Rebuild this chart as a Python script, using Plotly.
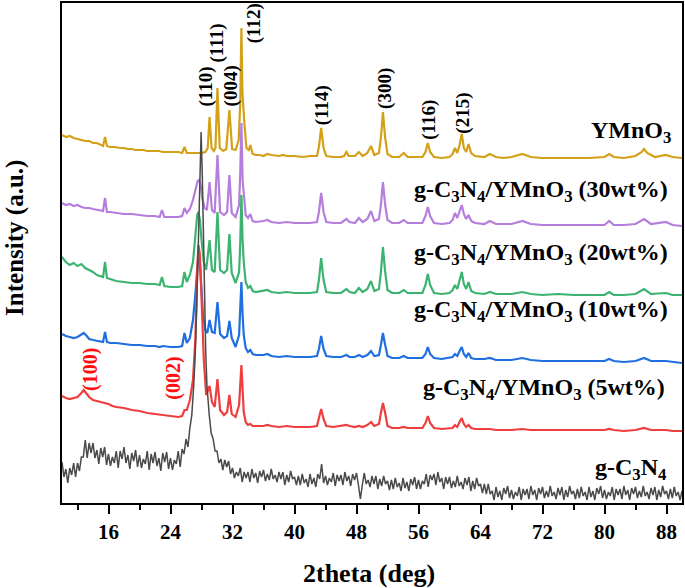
import plotly.graph_objects as go

# ---------------- data (2theta in deg, intensity in a.u., stacked) ----------------
YMNO3 = [(10.0,368),(10.5,366),(11.0,367),(11.5,365),(12.0,364),(12.5,363),(13.0,362),(13.5,362),
 (14.0,360),(14.5,360),(15.0,358),(15.3,357),(15.55,366),(15.8,357),(16.2,356),(16.8,356),(17.5,355),
 (18.0,355),(18.5,354),(19.0,354),(19.5,353),(20.0,353),(20.5,353),(21.0,352),(21.5,352),(22.0,352),
 (22.5,352),(23.0,351),(23.5,351),(24.0,351),(24.5,351),(25.0,351),(25.5,350),(25.8,356),(26.1,350),
 (26.5,350),(27.0,350),(27.5,350),(28.0,350),(28.5,351),(28.8,355),(29.04,386),(29.3,355),(29.6,352),
 (29.8,355),(30.06,415),(30.35,355),(30.8,352),(31.2,354),(31.6,393),(31.95,354),(32.4,353),(32.8,363),
 (33.0,400),(33.15,475),(33.28,410),(33.4,388),(33.55,378),(33.8,355),(34.1,353),(34.3,358),(34.6,349),
 (35.0,348),(35.5,348),(36.0,347),(36.5,349),(37.0,348),(38.0,347),(38.5,348),(39.0,347),(40.0,347),
 (41.0,346),(42.0,347),(42.9,347),(43.15,356),(43.44,375),(43.75,355),(44.1,347),(45.0,346),(46.0,346),
 (46.4,347),(46.7,351),(47.0,347),(47.8,347),(48.3,351),(48.8,347),(49.4,350),(49.87,357),(50.3,348),
 (50.9,350),(51.15,365),(51.41,391),(51.7,365),(52.0,349),(52.6,346),(53.5,346),(54.1,350),(54.6,346),
 (55.5,346),(56.5,346),(56.9,351),(57.2,360),(57.5,351),(58.0,346),(59.0,345),(60.0,346),(60.4,349),
 (60.7,355),(61.0,350),(61.3,358),(61.58,369),(61.85,355),(62.15,351),(62.45,359),(62.8,350),(63.3,347),
 (64.5,346),(65.2,349),(66.0,346),(67.0,345),(68.0,346),(69.4,349),(70.5,346),(72.0,345),(74.0,345),
 (76.0,345),(78.0,345),(80.0,346),(80.6,349),(81.2,346),(82.5,345),(84.0,347),(84.8,351),(85.1,354),
 (85.5,350),(86.5,346),(87.9,348),(88.8,346),(90.0,345)]

WT30 = [(10.0,300),(10.5,298),(11.0,299),(11.5,297),(12.0,298),(12.5,296),(13.0,295),(13.5,295),
 (14.0,294),(14.5,293),(15.0,292),(15.3,292),(15.55,305),(15.8,291),(16.2,291),(17.0,290),(18.0,289),
 (19.0,289),(20.0,288),(21.0,287),(22.0,287),(22.6,286),(22.9,293),(23.2,286),(24.0,286),(25.0,286),
 (25.5,287),(25.8,295),(26.1,290),(26.5,294),(26.9,303),(27.2,313),(27.5,322),(27.7,323),(27.9,317),
 (28.1,305),(28.4,295),(28.7,293),(29.04,321),(29.35,293),(29.7,290),(30.06,348),(30.4,291),(30.9,288),
 (31.3,291),(31.6,328),(31.9,290),(32.4,286),(32.85,298),(33.0,330),(33.15,380),(33.3,323),(33.45,308),
 (33.7,288),(34.0,285),(34.3,289),(34.6,282),(35.0,281),(36.0,282),(36.5,283),(37.0,281),(38.0,280),
 (39.0,281),(40.0,280),(41.0,280),(42.0,280),(42.9,281),(43.15,291),(43.44,310),(43.75,291),(44.1,281),
 (45.0,280),(46.0,280),(46.7,284),(47.1,281),(47.8,280),(48.3,285),(48.8,281),(49.4,284),(49.87,292),
 (50.3,282),(50.9,284),(51.15,298),(51.41,321),(51.7,298),(52.0,283),(52.6,280),(53.5,280),(54.1,283),
 (54.6,280),(55.5,280),(56.5,280),(56.9,287),(57.2,296),(57.5,287),(58.0,280),(59.0,279),(60.0,280),
 (60.4,283),(60.7,290),(61.0,285),(61.3,292),(61.58,298),(61.85,289),(62.15,284),(62.45,288),(62.8,282),
 (63.3,280),(64.5,279),(65.2,282),(66.0,279),(67.0,279),(68.0,279),(69.4,282),(70.5,279),(72.0,278),
 (74.0,278),(76.0,278),(78.0,278),(80.0,278),(80.6,282),(81.2,278),(82.5,278),(84.0,279),(85.1,284),
 (86.0,279),(87.9,281),(88.8,278),(90.0,277)]

WT20 = [(10.0,246),(10.5,241),(11.0,238),(11.5,240),(12.0,237),(12.5,239),(13.0,235),(13.5,233),
 (14.0,231),(14.5,228),(15.0,227),(15.3,226),(15.55,241),(15.8,225),(16.2,224),(17.0,222),(18.0,221),
 (19.0,220),(20.0,220),(21.0,219),(22.0,219),(22.6,218),(22.9,226),(23.2,217),(24.0,216),(25.0,216),
 (25.5,217),(25.8,231),(26.1,221),(26.5,228),(26.9,241),(27.2,263),(27.45,288),(27.6,291),(27.8,283),
 (28.0,263),(28.3,241),(28.6,233),(29.04,263),(29.35,233),(29.7,231),(30.06,291),(30.4,233),(30.9,230),
 (31.3,233),(31.6,269),(31.9,230),(32.4,220),(32.85,231),(33.0,260),(33.15,308),(33.3,263),(33.45,241),
 (33.7,221),(34.0,215),(34.3,217),(34.6,212),(35.0,211),(36.0,212),(36.5,213),(37.0,211),(38.0,210),
 (39.0,211),(40.0,210),(41.0,210),(42.0,210),(42.9,211),(43.15,223),(43.44,245),(43.75,223),(44.1,211),
 (45.0,210),(46.0,210),(46.7,214),(47.1,211),(47.8,210),(48.3,215),(48.8,211),(49.4,214),(49.87,222),
 (50.3,212),(50.9,214),(51.15,231),(51.41,256),(51.7,231),(52.0,213),(52.6,210),(53.5,210),(54.1,213),
 (54.6,210),(55.5,210),(56.5,210),(56.9,218),(57.2,229),(57.5,218),(58.0,210),(59.0,209),(60.0,210),
 (60.4,213),(60.7,218),(61.0,214),(61.3,223),(61.58,231),(61.85,219),(62.15,214),(62.45,221),(62.8,212),
 (63.3,210),(64.5,209),(65.2,211),(66.0,209),(67.0,209),(68.0,209),(69.4,211),(70.5,209),(72.0,208),
 (74.0,209),(76.0,208),(78.0,208),(80.0,208),(80.6,211),(81.2,208),(82.5,208),(84.0,209),(85.1,214),
 (86.0,209),(87.9,210),(88.8,208),(90.0,208)]

WT10 = [(10.0,169),(10.5,167),(11.0,166),(11.5,165),(12.0,166),(12.5,169),(12.8,170),(13.2,167),
 (13.5,164),(14.0,163),(14.5,162),(15.0,161),(15.3,161),(15.55,171),(15.8,161),(16.2,160),(17.0,160),
 (18.0,159),(19.0,158),(20.0,158),(21.0,157),(22.0,157),(22.6,156),(23.0,157),(24.0,156),(25.0,156),
 (25.5,157),(25.8,170),(26.1,160),(26.5,165),(26.9,183),(27.2,208),(27.45,241),(27.6,250),(27.75,245),
 (27.95,218),(28.2,188),(28.5,173),(28.75,170),(29.04,183),(29.35,171),(29.7,170),(30.06,201),(30.4,169),
 (30.9,165),(31.3,167),(31.6,182),(31.9,165),(32.4,156),(32.85,168),(33.0,190),(33.15,221),(33.3,188),
 (33.45,168),(33.7,155),(34.0,151),(34.3,153),(34.6,149),(35.0,148),(36.0,148),(36.5,149),(37.0,147),
 (38.0,146),(39.0,147),(40.0,146),(41.0,146),(42.0,146),(42.9,147),(43.15,154),(43.44,167),(43.75,154),
 (44.1,147),(45.0,146),(46.0,146),(46.7,148),(47.1,146),(47.8,146),(48.3,148),(48.8,146),(49.4,148),
 (49.87,152),(50.3,147),(50.9,148),(51.15,158),(51.41,170),(51.7,158),(52.0,147),(52.6,145),(53.5,145),
 (54.1,147),(54.6,145),(55.5,145),(56.5,145),(56.9,149),(57.2,156),(57.5,149),(58.0,145),(59.0,144),
 (60.0,145),(60.4,146),(60.7,149),(61.0,147),(61.3,152),(61.58,156),(61.85,149),(62.15,146),(62.45,150),
 (62.8,145),(63.3,144),(64.5,144),(65.2,145),(66.0,143),(67.0,143),(68.0,143),(69.4,145),(70.5,143),
 (72.0,142),(74.0,142),(76.0,142),(78.0,142),(80.0,142),(80.6,144),(81.2,142),(82.5,141),(84.0,142),
 (85.1,145),(86.0,142),(87.9,142),(88.8,141),(90.0,140)]

WT5 = [(10.0,107),(10.5,105),(11.0,104),(11.5,105),(12.0,106),(12.5,110),(12.8,113),(13.2,109),
 (13.5,106),(14.0,103),(14.5,102),(15.0,101),(15.5,100),(16.0,99),(16.5,97),(17.0,96),(18.0,95),
 (19.0,93),(20.0,92),(21.0,90),(22.0,89),(23.0,88),(24.0,87),(25.0,86),(25.5,87),(25.8,93),(26.1,93),
 (26.5,103),(26.9,123),(27.2,163),(27.45,233),(27.6,258),(27.8,248),(28.0,203),(28.3,143),(28.6,108),
 (29.04,117),(29.35,101),(29.7,96),(30.06,124),(30.4,93),(30.9,88),(31.3,91),(31.6,108),(31.9,89),
 (32.4,86),(32.85,98),(33.15,138),(33.3,108),(33.45,91),(33.7,81),(34.0,78),(34.3,79),(34.6,77),
 (35.0,77),(36.0,77),(36.5,78),(37.0,77),(38.0,76),(39.0,77),(40.0,76),(41.0,76),(42.0,76),(42.9,77),
 (43.15,84),(43.44,94),(43.75,84),(44.1,77),(45.0,76),(46.0,77),(46.7,78),(47.1,77),(47.8,76),(48.3,77),
 (48.8,76),(49.4,78),(49.87,81),(50.3,77),(50.9,79),(51.15,90),(51.41,100),(51.7,90),(52.0,77),(52.6,75),
 (53.5,75),(54.1,76),(54.6,75),(55.5,75),(56.5,75),(56.9,80),(57.2,87),(57.5,80),(58.0,75),(59.0,74),
 (60.0,75),(60.4,75),(60.7,78),(61.0,76),(61.3,81),(61.58,85),(61.85,79),(62.15,76),(62.45,78),(62.8,75),
 (63.3,74),(64.5,74),(65.2,74),(66.0,73),(67.0,73),(68.0,73),(69.4,74),(70.5,73),(72.0,73),(74.0,73),
 (76.0,73),(78.0,73),(80.0,73),(80.6,74),(81.2,73),(82.5,72),(84.0,73),(85.1,75),(86.0,73),(87.9,73),
 (88.8,72),(90.0,72)]

GCN = [(10.0,41),(10.25,26),(10.5,34),(10.75,20),(11.0,35),(11.25,28),(11.5,40),(11.75,26),(12.0,40),
 (12.25,32),(12.5,46),(12.75,46),(13.0,63),(13.25,45),(13.5,60),(13.75,50),(14.0,60),(14.25,45),
 (14.5,53),(14.75,39),(15.0,55),(15.25,46),(15.5,56),(15.75,38),(16.0,49),(16.25,37),(16.5,46),
 (16.75,40),(17.0,52),(17.25,35),(17.5,52),(17.75,44),(18.0,56),(18.25,40),(18.5,48),(18.75,34),
 (19.0,50),(19.25,42),(19.5,53),(19.75,36),(20.0,48),(20.25,35),(20.5,44),(20.75,39),(21.0,52),
 (21.25,33),(21.5,49),(21.75,40),(22.0,51),(22.25,37),(22.5,45),(22.75,32),(23.0,50),(23.25,41),
 (23.5,51),(23.75,34),(24.0,45),(24.25,33),(24.5,43),(24.75,39),(25.0,52),(25.25,36),(25.5,54),
 (25.75,49),(26.0,64),(26.25,56),(26.5,75),(26.75,88),(27.0,118),(27.2,150),(27.4,200),(27.6,268),
 (27.8,340),(27.95,371),(28.1,328),(28.25,260),(28.4,195),(28.55,150),(28.7,118),(28.85,100),(29.0,88),
 (29.25,70),(29.5,64),(29.75,52),(30.0,52),(30.25,40),(30.5,44),(30.75,33),(31.0,43),(31.25,36),
 (31.5,42),(31.75,29),(32.0,35),(32.25,25),(32.5,31),(32.75,27),(33.0,35),(33.25,21),(33.5,31),
 (33.75,25),(34.0,31),(34.25,21),(34.5,34),(34.75,25),(35.0,30),(35.25,20),(35.5,32),(35.75,26),
 (36.0,33),(36.25,22),(36.5,29),(36.75,23),(37.0,34),(37.25,24),(37.5,28),(37.75,21),(38.0,31),
 (38.25,24),(38.5,31),(38.75,18),(39.0,28),(39.25,21),(39.5,32),(39.75,24),(40.0,26),(40.25,18),
 (40.5,27),(40.75,18),(41.0,29),(41.25,20),(41.5,24),(41.75,16),(42.0,29),(42.25,19),(42.5,25),
 (42.75,16),(43.0,29),(43.25,24),(43.5,39),(43.75,20),(44.0,27),(44.25,18),(44.5,25),(44.75,21),
 (45.0,30),(45.25,17),(45.5,28),(45.75,22),(46.0,28),(46.25,18),(46.5,31),(46.75,22),(47.0,27),
 (47.25,17),(47.5,29),(47.75,23),(48.0,30),(48.25,18),(48.5,4),(48.75,18),(49.0,30),(49.25,19),
 (49.5,23),(49.75,16),(50.0,27),(50.25,19),(50.5,27),(50.75,14),(51.0,24),(51.25,17),(51.5,27),
 (51.75,19),(52.0,22),(52.25,13),(52.5,23),(52.75,14),(53.0,25),(53.25,16),(53.5,20),(53.75,12),
 (54.0,25),(54.25,15),(54.5,21),(54.75,12),(55.0,24),(55.25,18),(55.5,26),(55.75,14),(56.0,23),
 (56.25,14),(56.5,22),(56.75,19),(57.0,29),(57.25,16),(57.5,28),(57.75,23),(58.0,29),(58.25,18),
 (58.5,31),(58.75,21),(59.0,25),(59.25,14),(59.5,26),(59.75,19),(60.0,26),(60.25,15),(60.5,22),
 (60.75,16),(61.0,27),(61.25,17),(61.5,21),(61.75,14),(62.0,25),(62.25,18),(62.5,26),(62.75,12),
 (63.0,22),(63.25,14),(63.5,25),(63.75,17),(64.0,19),(64.25,10),(64.5,19),(64.75,9),(65.0,19),
 (65.25,9),(65.5,12),(65.75,3),(66.0,16),(66.25,6),(66.5,12),(66.75,3),(67.0,15),(67.25,9),(67.5,17),
 (67.75,5),(68.0,13),(68.25,4),(68.5,11),(68.75,7),(69.0,16),(69.25,3),(69.5,14),(69.75,8),(70.0,14),
 (70.25,4),(70.5,17),(70.75,8),(71.0,13),(71.25,3),(71.5,15),(71.75,9),(72.0,16),(72.25,5),(72.5,12),
 (72.75,6),(73.0,17),(73.25,7),(73.5,11),(73.75,4),(74.0,15),(74.25,8),(74.5,16),(74.75,3),(75.0,13),
 (75.25,6),(75.5,17),(75.75,9),(76.0,12),(76.25,4),(76.5,14),(76.75,5),(77.0,16),(77.25,7),(77.5,11),
 (77.75,3),(78.0,16),(78.25,6),(78.5,12),(78.75,3),(79.0,15),(79.25,9),(79.5,17),(79.75,5),(80.0,13),
 (80.25,4),(80.5,11),(80.75,7),(81.0,16),(81.25,3),(81.5,14),(81.75,8),(82.0,14),(82.25,4),(82.5,17),
 (82.75,8),(83.0,13),(83.25,3),(83.5,15),(83.75,9),(84.0,16),(84.25,5),(84.5,12),(84.75,6),(85.0,17),
 (85.25,7),(85.5,11),(85.75,4),(86.0,15),(86.25,8),(86.5,16),(86.75,3),(87.0,13),(87.25,6),(87.5,17),
 (87.75,9),(88.0,12),(88.25,4),(88.5,14),(88.75,5),(89.0,16),(89.25,7),(89.5,11),(89.75,3),(90.0,12)]

SERIES_NAMES = ["YMnO3", "g-C3N4/YMnO3 (30wt%)", "g-C3N4/YMnO3 (20wt%)",
                "g-C3N4/YMnO3 (10wt%)", "g-C3N4/YMnO3 (5wt%)", "g-C3N4"]
SERIES_LABELS = ["YMnO<sub>3</sub>",
                 "g-C<sub>3</sub>N<sub>4</sub>/YMnO<sub>3</sub> (30wt%)",
                 "g-C<sub>3</sub>N<sub>4</sub>/YMnO<sub>3</sub> (20wt%)",
                 "g-C<sub>3</sub>N<sub>4</sub>/YMnO<sub>3</sub> (10wt%)",
                 "g-C<sub>3</sub>N<sub>4</sub>/YMnO<sub>3</sub> (5wt%)",
                 "g-C<sub>3</sub>N<sub>4</sub>"]
SERIES_DATA = [YMNO3, WT30, WT20, WT10, WT5, GCN]
LABEL_POS = [(88.9, 371), (88.5, 312), (88.5, 249), (88.5, 192), (88.0, 114), (88.35, 34)]

PEAK_LABELS = ["(110)", "(111)", "(004)", "(112)", "(114)", "(300)", "(116)", "(215)"]
PEAK_POS = [(28.52, 416), (30.06, 460), (31.86, 417), (34.82, 480),
            (43.57, 398), (51.67, 415), (57.33, 383), (61.70, 390)]
GCN_PEAK_LABELS = ["(100)", "(002)"]
GCN_PEAK_POS = [(13.6, 134), (24.28, 125)]

X_TICKS = [16, 24, 32, 40, 48, 56, 64, 72, 80, 88]
X_MINOR = [12, 20, 28, 36, 44, 52, 60, 68, 76, 84]

# ---------------- styles ----------------
COLORS = ["#D4A017", "#B57EDC", "#3CB371", "#1F6FE0", "#EF3E3E", "#4A4A4A"]
WIDTHS = [2.2, 2.2, 2.2, 2.2, 2.2, 1.5]
FONT = "Liberation Serif"

fig = go.Figure()
for name, data, col, w in zip(SERIES_NAMES, SERIES_DATA, COLORS, WIDTHS):
    fig.add_trace(go.Scatter(x=[p[0] for p in data], y=[p[1] for p in data], mode="lines",
                             name=name, line=dict(color=col, width=w), showlegend=False))

ann = []
for txt, (x, y) in zip(SERIES_LABELS, LABEL_POS):
    ann.append(dict(x=x, y=y, xref="x", yref="y", text=txt, showarrow=False,
                    xanchor="right", yanchor="middle",
                    font=dict(family=FONT, size=24, color="black", weight="bold")))
for txt, (x, y) in zip(PEAK_LABELS, PEAK_POS):
    ann.append(dict(x=x, y=y, xref="x", yref="y", text=txt, showarrow=False, textangle=-90,
                    xanchor="center", yanchor="middle",
                    font=dict(family=FONT, size=19, color="black", weight="bold")))
for txt, (x, y) in zip(GCN_PEAK_LABELS, GCN_PEAK_POS):
    ann.append(dict(x=x, y=y, xref="x", yref="y", text=txt, showarrow=False, textangle=-90,
                    xanchor="center", yanchor="middle",
                    font=dict(family=FONT, size=20, color="#FF1010", weight="bold")))
ann.append(dict(x=-0.076, y=0.53, xref="paper", yref="paper", text="Intensity (a.u.)",
                showarrow=False, textangle=-90, xanchor="center", yanchor="middle",
                font=dict(family=FONT, size=25, color="black", weight="bold")))
ann.append(dict(x=0.495, y=-0.14, xref="paper", yref="paper", text="2theta (deg)",
                showarrow=False, xanchor="center", yanchor="middle",
                font=dict(family=FONT, size=26, color="black", weight="bold")))

fig.update_layout(
    width=685, height=588,
    margin=dict(l=62, r=1, t=3, b=85),
    plot_bgcolor="white", paper_bgcolor="white",
    annotations=ann,
    xaxis=dict(range=[10, 90], tickvals=X_TICKS, ticks="outside", ticklen=9, tickwidth=2,
               tickcolor="black", showline=True, linewidth=2, linecolor="black", mirror=True,
               showgrid=False, zeroline=False,
               tickfont=dict(family=FONT, size=21, color="black", weight="bold"),
               minor=dict(tickvals=X_MINOR, ticks="outside", ticklen=5, tickwidth=2,
                          tickcolor="black")),
    yaxis=dict(range=[0, 500], showticklabels=False, ticks="", showline=True, linewidth=2,
               linecolor="black", mirror=True, showgrid=False, zeroline=False),
)

fig.write_html("out.html", config={"displayModeBar": False},
               post_script="document.body.style.margin='0px';document.body.style.overflow='hidden';")
